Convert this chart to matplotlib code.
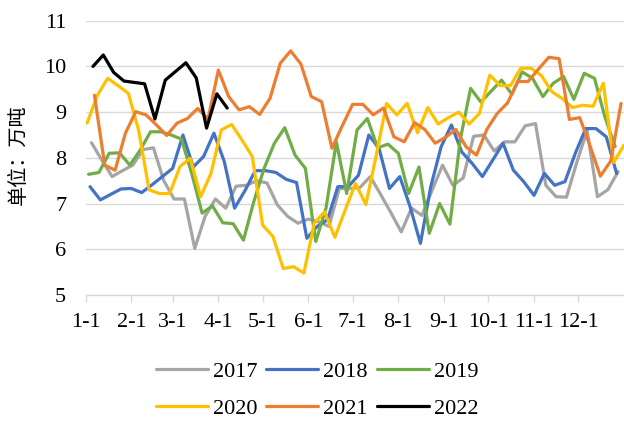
import matplotlib
matplotlib.use("Agg")
import matplotlib.pyplot as plt
import numpy as np
import pandas as pd

plt.rcParams["font.family"] = ["Liberation Serif", "Noto Sans CJK SC", "DejaVu Sans"]

# weekly values (Thursday readings), unit: 10k tonnes
years = ["2017", "2018", "2019", "2020", "2021", "2022"]
colors = ["#A5A5A5", "#4472C4", "#70AD47", "#FFC000", "#ED7D31", "#000000"]

v2017 = [8.33, 7.95, 7.59, 7.72, 7.84, 8.18, 8.22, 7.5, 7.1, 7.1,
         6.02, 6.72, 7.1, 6.9, 7.38, 7.4, 7.5, 7.45, 6.97, 6.72,
         6.57, 6.66, 6.6, 6.5, 7.33, 7.33, 7.35, 7.59, 7.2, 6.8,
         6.38, 6.9, 6.74, 7.3, 7.84, 7.4, 7.56, 8.47, 8.5, 8.15,
         8.35, 8.35, 8.7, 8.75, 7.4, 7.15, 7.14, 7.9, 8.6, 7.15,
         7.3, 7.7]
v2018 = [7.37, 7.08, 7.2, 7.32, 7.33, 7.24, 7.41, 7.59, 7.77, 8.5,
         7.8, 8.03, 8.54, 7.92, 6.9, 7.28, 7.72, 7.72, 7.68, 7.53,
         7.46, 6.24, 6.5, 6.65, 7.37, 7.37, 7.62, 8.5, 8.2, 7.33,
         7.59, 6.93, 6.13, 7.37, 8.24, 8.72, 8.13, 7.88, 7.59, 7.95,
         8.32, 7.73, 7.48, 7.18, 7.66, 7.40, 7.48, 8.1, 8.64, 8.64,
         8.46, 7.66]
v2019 = [7.64, 7.68, 8.1, 8.11, 7.84, 8.17, 8.57, 8.57, 8.5, 8.41,
         7.65, 6.79, 6.95, 6.58, 6.56, 6.2, 7.04, 7.77, 8.32, 8.66,
         8.06, 7.77, 6.17, 6.9, 8.35, 7.22, 8.61, 8.86, 8.22, 8.3,
         8.1, 7.22, 7.8, 6.35, 7.0, 6.55, 8.4, 9.52, 9.22, 9.46,
         9.7, 9.39, 9.88, 9.74, 9.34, 9.63, 9.78, 9.28, 9.85, 9.74,
         8.9, 8.25]
v2020 = [8.76, 9.37, 9.74, 9.58, 9.41, 8.6, 7.3, 7.22, 7.22, 7.81,
         7.99, 7.15, 7.66, 8.61, 8.73, 8.39, 8.03, 6.53, 6.28, 5.58,
         5.62, 5.48, 6.57, 6.82, 6.26, 6.86, 7.44, 6.98, 8.05, 9.19,
         8.94, 9.19, 8.55, 9.1, 8.74, 8.88, 9.0, 8.74, 8.97, 9.81,
         9.58, 9.58, 9.96, 9.96, 9.8, 9.45, 9.3, 9.1, 9.15, 9.13,
         9.63, 7.9, 8.28]
v2021 = [9.37, 7.84, 7.73, 8.54, 9.01, 8.94, 8.72, 8.49, 8.76, 8.86,
         9.08, 8.85, 9.92, 9.34, 9.05, 9.12, 8.95, 9.3, 10.07, 10.34,
         10.05, 9.34, 9.23, 8.21, 8.7, 9.17, 9.17, 8.94, 9.09, 8.46,
         8.35, 8.77, 8.62, 8.32, 8.45, 8.62, 8.24, 8.06, 8.62, 8.97,
         9.2, 9.67, 9.67, 9.94, 10.2, 10.17, 8.84, 8.88, 8.26, 7.6,
         7.93, 9.19]
v2022 = [10.0, 10.25, 9.87, 9.68, 9.65, 9.62, 8.85, 9.7, 9.89, 10.08,
         9.75, 8.65, 9.4, 9.09]
values = [v2017, v2018, v2019, v2020, v2021, v2022]

month_days = [0, 31, 59, 90, 120, 151, 181, 212, 243, 273, 304, 334]
month_labels = ["1-1", "2-1", "3-1", "4-1", "5-1", "6-1",
                "7-1", "8-1", "9-1", "10-1", "11-1", "12-1"]

W, H = 624, 421
fig = plt.figure(figsize=(W / 100, H / 100), dpi=100)
ax = fig.add_axes([85.6 / W, 1 - 295 / H, (W - 85.6) / W, (295 - 20.7) / H])

lines = []
for year, vals, c in zip(years, values, colors):
    dates = pd.date_range(f"{year}-01-01", periods=len(vals), freq="W-THU")
    x = (dates - pd.Timestamp(f"{year}-01-01")).days
    ln, = ax.plot(x, vals, color=c, lw=2.3, label=year,
                  solid_joinstyle="round", solid_capstyle="round")
    lines.append(ln)

ax.set_xlim(0, 365)
ax.set_ylim(5, 11)
ax.set_yticks(range(5, 12))
ax.set_xticks(month_days)
ax.set_xticklabels(month_labels)
ax.grid(axis="y", color="#D9D9D9", lw=1.0)
ax.set_axisbelow(True)
for s in ["top", "right", "left"]:
    ax.spines[s].set_visible(False)
ax.spines["bottom"].set_color("#D9D9D9")
ax.spines["bottom"].set_linewidth(1.0)
ax.tick_params(axis="x", length=5, width=1.0, color="#D9D9D9", pad=8,
               labelsize=16, labelcolor="#000000")
ax.tick_params(axis="y", length=0, pad=14, labelsize=16)

fig.text(18 / W, 1 - 155 / H, "单位：万吨", rotation=90, ha="center",
         va="center", fontsize=14.5, family=["Noto Sans CJK SC", "DejaVu Sans"])

order = [0, 3, 1, 4, 2, 5]
fig.legend([lines[i] for i in order], [years[i] for i in order], ncol=3,
           loc="center", bbox_to_anchor=(317 / W, 1 - 390 / H),
           frameon=False, fontsize=16, handlelength=2.35, handletextpad=0.22,
           columnspacing=0.4, labelspacing=0.75, borderpad=0)

fig.savefig("out.png", dpi=100)
